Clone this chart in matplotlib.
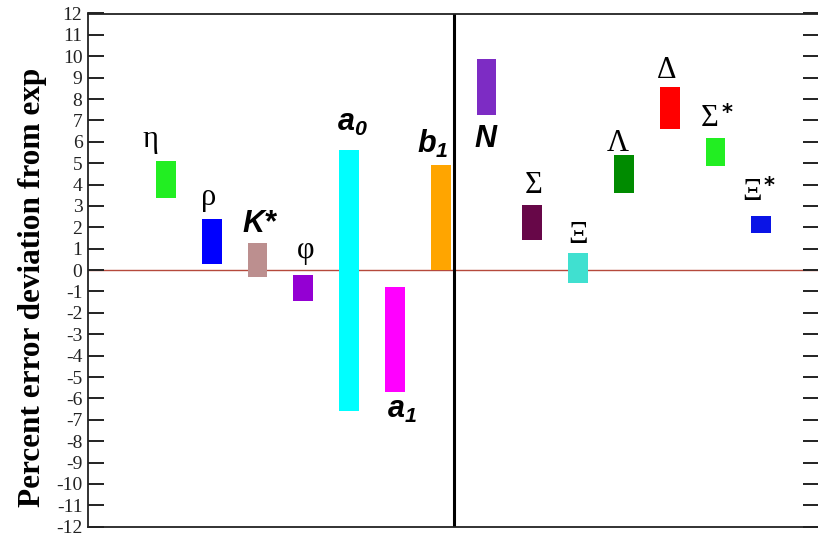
import matplotlib
matplotlib.use("Agg")
import matplotlib.pyplot as plt

# --- data ---
positions = [1, 2, 3, 4, 5, 6, 7, 8, 9, 10, 11, 12, 13, 14]
low = [3.35, 0.3, -0.3, -1.45, -6.6, -5.7, 0.0, 7.25, 1.4, -0.6, 3.6, 6.6, 4.85, 1.75]
high = [5.1, 2.4, 1.25, -0.25, 5.6, -0.8, 4.9, 9.85, 3.05, 0.8, 5.4, 8.55, 6.2, 2.55]
colors = ['#22ee22', '#0000ff', '#bc8f8f', '#9400d3', '#00ffff', '#ff00ff', '#ffa500',
          '#7d2cc4', '#670748', '#40e0d0', '#008b00', '#ff0000', '#22ee22', '#0a14e6']
labels = ['η', 'ρ', 'K*', 'φ', r'$\mathbfit{a}_{\mathbfit{0}}$', r'$\mathbfit{a}_{\mathbfit{1}}$',
          r'$\mathbfit{b}_{\mathbfit{1}}$', 'N', 'Σ', 'Ξ', 'Λ', 'Δ', 'Σ', 'Ξ']
starred = [False] * 12 + [True, True]
bold_label = [False, False, True, False, True, True, True, True, False, False, False, False, False, False]
# label anchor (x centre, baseline) in data units
label_x = [0.67, 1.94, 3.05, 4.05, 5.08, 6.16, 6.82, 7.98, 9.04, 10.0, 10.87, 11.93, 12.88, 13.79]
label_y = [5.78, 3.06, 1.79, 0.58, 6.49, -6.89, 5.48, 5.76, 3.61, 1.27, 5.55, 8.98, 6.72, 3.29]
yticks = list(range(-12, 13))

plt.rcParams['mathtext.fontset'] = 'custom'
plt.rcParams['mathtext.bfit'] = 'Liberation Sans:italic:bold'
plt.rcParams['axes.unicode_minus'] = False

fig = plt.figure(figsize=(8.18, 5.39), dpi=100)
ax = fig.add_axes([88 / 818, 12.3 / 539, 731 / 818, 513.2 / 539])

ax.axhline(0, color='#b5493c', lw=1.0, zorder=1)
ax.axvline(7.3, color='black', lw=2.2, zorder=1)

heights = [h - l for l, h in zip(low, high)]
ax.bar(positions, heights, bottom=low, width=0.43, color=colors, zorder=2)

for i in range(len(labels)):
    if bold_label[i]:
        ax.text(label_x[i], label_y[i], labels[i], ha='center', va='baseline',
                fontsize=22, family='Liberation Sans', weight='bold', style='italic')
    else:
        ax.text(label_x[i], label_y[i], labels[i], ha='center', va='baseline',
                fontsize=22, family='Liberation Serif')
    if starred[i]:
        ax.text(label_x[i] + 0.25, label_y[i] + 1.1, '*', ha='left', va='top',
                fontsize=15, family='DejaVu Sans', weight='bold')

ax.set_xlim(-0.7, 15.26)
ax.set_ylim(-12, 12)
ax.set_yticks(yticks)
ax.set_xticks([])
ax.tick_params(axis='y', direction='in', length=11.5, width=1.4, pad=4,
               labelsize=14, left=True, right=True, colors='#222222')
for lab in ax.get_yticklabels():
    lab.set_family('Liberation Serif')
for sp in ax.spines.values():
    sp.set_linewidth(1.3)
    sp.set_color('#222222')

fig.text(33 / 818, 1 - 287 / 539, 'Percent error deviation from exp', rotation=90,
         ha='center', va='center', fontsize=22.5, family='Liberation Serif', weight='bold')

fig.savefig('out.png', dpi=100)
